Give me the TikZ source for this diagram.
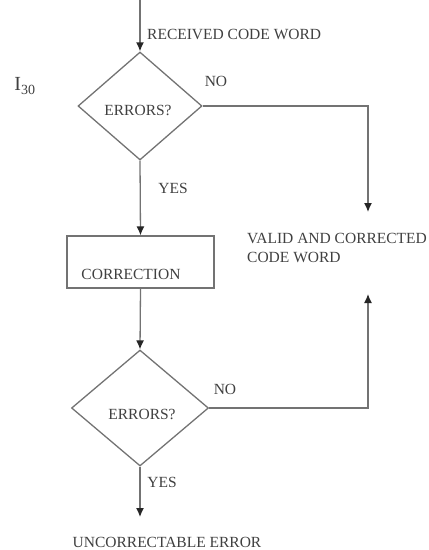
\documentclass[tikz,border=0pt]{standalone}
\usepackage{fontspec}
\setmainfont{Liberation Serif}
\usetikzlibrary{shapes,arrows.meta}

\begin{document}
\begin{tikzpicture}[x=1pt,y=-1pt,>={Latex[length=9pt,width=8pt,color=black!85]}]
    \tikzstyle{block} = [draw=black!55, shape=rectangle, minimum height=52pt, minimum width=147pt, line width=1.3pt]
    \tikzstyle{decision} = [draw=black!55, shape=diamond, inner sep=0pt, line width=1.3pt]
    \tikzstyle{lbl} = [inner sep=0pt, text=black!75]
    \tikzstyle{tmp} = [coordinate]
    \useasboundingbox (0,0) rectangle (429,550);
    \fontsize{15.5}{19}\selectfont
    %Creating Blocks and Connection Nodes
    \coordinate (input) at (140,0);
    \node [decision, minimum width=124pt, minimum height=108pt] (err1) at (140,106) {};
    \node [block] (corr) at (140.5,262) {};
    \node [decision, minimum width=137pt, minimum height=116pt] (err2) at (140,408) {};
    \coordinate (valin1) at (368,212);
    \coordinate (valin2) at (368,294);
    \coordinate (output) at (140,517);
    %Texts
    \node [lbl] (err1txt) at (138,110) {ERRORS?};
    \node [lbl] (corrtxt) at (131,274) {CORRECTION};
    \node [lbl] (err2txt) at (142,414) {ERRORS?};
    \node [lbl, anchor=west] (rcv) at (147,34) {RECEIVED CODE WORD};
    \node [lbl, anchor=west, align=left] (valid) at (247,248) {VALID AND CORRECTED\\CODE WORD};
    \node [lbl] (uncorr) at (167,542) {UNCORRECTABLE ERROR};
    \node [lbl] (no1) at (216,81) {NO};
    \node [lbl] (yes1) at (173,188) {YES};
    \node [lbl] (no2) at (225,389) {NO};
    \node [lbl] (yes2) at (162,482) {YES};
    \node [lbl, font=\fontsize{20}{22}\selectfont] (stage) at (25,86) {I\textsubscript{30}};
    %Conecting Blocks
    \begin{scope}[line width=1.3pt, draw=black!55]
         \draw[->] (input) -- (err1.north);
         \draw[->] (err1.south) -- (corr.north);
         \draw[->] (corr.south) -- (err2.north);
         \draw[->] (err2.south) -- (output);
         \draw[->] (err1.east) -| (valin1);
         \draw[->] (err2.east) -| (valin2);
    \end{scope}
\end{tikzpicture}
\end{document}
